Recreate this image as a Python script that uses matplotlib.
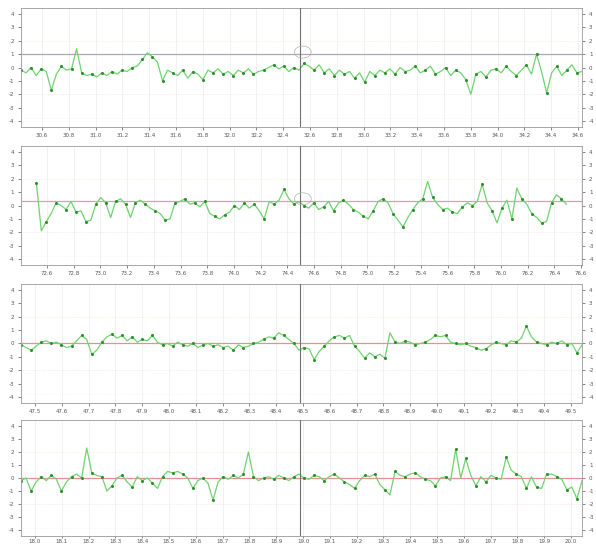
import numpy as np
import matplotlib
matplotlib.use("Agg")
import matplotlib.pyplot as plt
from matplotlib.patches import Ellipse

# ---------------- data ----------------
p1_vals = [-0.2, -0.4, 0.0, -0.6, -0.1, -0.3, -1.7, -0.5, 0.1, -0.2,
           -0.1, 1.4, -0.4, -0.6, -0.5, -0.7, -0.4, -0.6, -0.3, -0.5,
           -0.2, -0.3, 0.0, 0.1, 0.6, 1.1, 0.8, 0.4, -1.0, -0.2,
           -0.4, -0.6, -0.2, -0.8, -0.3, -0.5, -0.9, -0.2, -0.4, -0.1,
           -0.5, -0.3, -0.6, -0.2, -0.4, -0.1, -0.5, -0.3, -0.2, 0.0,
           0.2, -0.1, 0.1, -0.3, 0.0, -0.2, 0.3, 0.1, -0.2, 0.2,
           -0.4, -0.1, -0.6, -0.2, -0.5, -0.3, -0.8, -0.4, -1.1, -0.3,
           -0.6, -0.2, -0.4, -0.1, -0.5, 0.0, -0.3, -0.2, 0.1, -0.4,
           -0.2, 0.1, -0.5, -0.3, 0.0, -0.6, -0.2, -0.4, -0.9, -2.0,
           -0.5, -0.3, -0.7, -0.2, -0.1, -0.4, 0.1, -0.3, -0.6, -0.2,
           0.2, -0.5, 1.0, -0.3, -1.9, -0.4, 0.1, -0.6, -0.2, 0.2, -0.4, -0.3]

p2_vals = [1.7, -1.9, -1.2, -0.6, 0.2, 0.0, -0.3, 0.3, -0.5, -0.4,
           -1.2, -1.1, 0.1, 0.6, 0.2, -0.9, 0.3, 0.5, 0.1, -0.9,
           0.2, 0.4, 0.1, -0.2, -0.4, -0.6, -1.1, -1.0, 0.2, 0.3,
           0.5, 0.1, 0.2, -0.1, 0.3, -0.6, -0.8, -1.0, -0.7, -0.5,
           0.0, -0.3, 0.2, -0.2, 0.1, -0.4, -1.0, 0.3, 0.1, 0.4,
           1.2, 0.5, 0.1, 0.3, 0.0, -0.2, 0.2, -0.3, -0.1, 0.3,
           -0.4, 0.2, 0.4, 0.1, -0.3, -0.5, -0.8, -1.0, -0.4, 0.3,
           0.5, 0.2, -0.6, -1.1, -1.6, -0.9, -0.3, 0.2, 0.5, 1.8,
           0.6, 0.1, -0.3, -0.2, -0.5, -0.6, -0.1, 0.2, 0.0, 0.3,
           1.6, 0.2, -0.4, -1.3, -0.2, 0.4, -1.0, 1.3, 0.5, 0.1,
           -0.6, -0.9, -1.3, -1.2, 0.2, 0.8, 0.5, 0.1]

p3_vals = [-0.1, -0.3, -0.5, -0.2, 0.1, 0.2, 0.0, 0.1, -0.1, -0.3,
           -0.2, 0.2, 0.6, 0.3, -0.8, -0.5, 0.1, 0.5, 0.7, 0.4,
           0.6, 0.2, 0.5, 0.1, 0.3, 0.2, 0.6, 0.1, -0.1, 0.0,
           -0.2, 0.1, -0.1, -0.2, 0.0, -0.3, -0.1, 0.0, -0.2, -0.1,
           -0.3, -0.2, -0.5, -0.1, -0.3, -0.2, 0.0, 0.1, 0.3, 0.5,
           0.4, 0.8, 0.6, 0.3, 0.0, -0.5, -0.3, -0.4, -1.2, -0.6,
           -0.2, 0.2, 0.5, 0.6, 0.4, 0.6, -0.2, -0.6, -1.1, -0.7,
           -1.0, -0.8, -1.1, 0.8, 0.1, 0.0, 0.2, 0.1, -0.1, 0.0,
           0.1, 0.3, 0.6, 0.5, 0.6, 0.1, 0.0, -0.1, 0.0, -0.2,
           -0.3, -0.5, -0.4, -0.1, 0.1, 0.0, -0.1, 0.2, 0.1, 0.4,
           1.3, 0.5, 0.1, 0.0, -0.1, 0.1, 0.0, 0.2, -0.1, 0.0, -0.7, -0.1]

p4_vals = [-0.2, 0.0, -1.0, -0.3, 0.1, -0.2, 0.2, -0.1, -1.0, -0.3,
           0.1, 0.3, 0.0, 2.3, 0.4, 0.2, 0.1, -1.0, -0.6, 0.0,
           0.2, -0.3, -0.7, 0.1, -0.2, 0.0, -0.4, -0.8, 0.1, 0.5,
           0.4, 0.5, 0.3, 0.0, -0.8, -0.2, 0.0, -0.4, -1.7, -0.3,
           0.1, -0.1, 0.2, 0.0, 0.3, 2.0, 0.1, -0.2, 0.0, 0.1,
           -0.1, 0.2, 0.0, -0.2, 0.1, 0.3, 0.0, -0.1, 0.2, 0.1,
           -0.2, 0.1, 0.3, 0.0, -0.3, -0.5, -0.8, -0.2, 0.2, 0.1,
           0.3, -0.5, -0.9, -1.3, 0.5, 0.2, 0.1, 0.3, 0.4, 0.1,
           -0.1, -0.2, -0.6, 0.0, 0.1, -0.2, 2.2, 0.0, 1.5, 0.2,
           -0.6, 0.1, -0.3, 0.2, 0.0, -0.1, 1.6, 0.6, 0.3, 0.1,
           -0.8, 0.1, -0.7, -0.8, 0.3, 0.3, 0.1, -0.1, -0.9, -0.7, -1.6, -0.2]

# genomic x range covered by each panel's data (Mb)
data_start = [30.443, 72.52, 47.448, 17.948]
data_end = [34.63, 76.49, 49.541, 20.041]
# axis limits
xlims = [(30.443, 34.63), (72.405, 76.607), (47.448, 49.541), (17.948, 20.041)]
# x tick labels
xticks1 = [round(30.6 + 0.2 * i, 1) for i in range(21)]
xticks2 = [round(72.6 + 0.2 * i, 1) for i in range(21)]
xticks3 = [round(47.5 + 0.1 * i, 1) for i in range(21)]
xticks4 = [round(18.0 + 0.1 * i, 1) for i in range(21)]
yticks = [-4, -3, -2, -1, 0, 1, 2, 3, 4]
# reference baseline per panel
baselines = [1.0, 0.35, 0.0, 0.0]
baseline_colors = ["#a8a8b8", "#c8a8b0", "#e89090", "#e89090"]
centers = [32.525, 74.495, 48.489, 18.989]

values = [p1_vals, p2_vals, p3_vals, p4_vals]
xticks = [xticks1, xticks2, xticks3, xticks4]

# ---------------- figure ----------------
fig = plt.figure(figsize=(5.96, 5.47), dpi=100)
W, H = 596, 547
boxes = [(8, 127), (146, 265), (284, 403), (420, 536)]
left_px, right_px = 21, 582

for k in range(4):
    top, bot = boxes[k]
    ax = fig.add_axes([left_px / W, 1 - bot / H, (right_px - left_px) / W, (bot - top) / H])
    v = np.array(values[k])
    x = np.linspace(data_start[k], data_end[k], len(v))
    ax.set_xlim(*xlims[k])
    ax.set_ylim(-4.45, 4.45)
    # grid
    for t in xticks[k]:
        ax.axvline(t, color="#ececec", lw=0.5, zorder=0)
    ax.axhline(2, color="#eeeec8", lw=0.6, ls=":", zorder=0)
    ax.axhline(-2, color="#f4dede", lw=0.6, ls=":", zorder=0)
    ax.axhline(-3.8, color="#f0f0f0", lw=0.5, ls=":", zorder=0)
    ax.axhline(baselines[k], color=baseline_colors[k], lw=0.9, zorder=1)
    ax.axvline(centers[k], color="#707070", lw=0.8, zorder=3)
    ax.plot(x, v, color="#6fd36f", lw=0.9, zorder=2)
    ax.plot(x[::2], v[::2], ls="none", marker="o", ms=1.2, color="#2f8f2f", zorder=2)
    if k < 2:
        span = xlims[k][1] - xlims[k][0]
        ax.add_patch(Ellipse((centers[k] + span * 0.005, baselines[k] + 0.15),
                             width=span * 0.03, height=0.9, fill=False,
                             ec="#b0b0b0", lw=0.5, zorder=3))
    ax.set_xticks(xticks[k])
    ax.set_xticklabels([f"{t:.1f}" for t in xticks[k]])
    ax.set_yticks(yticks)
    ax.set_yticklabels([str(t) for t in yticks])
    ax.tick_params(axis="both", labelsize=4, colors="#555555", length=2, width=0.5, pad=2)
    if k == 3:
        ax.tick_params(axis="x", pad=1, length=1.5)
    ax.tick_params(axis="y", right=True, labelright=True, pad=3)
    for s in ax.spines.values():
        s.set_color("#999999")
        s.set_linewidth(0.6)

fig.savefig("out.png", dpi=100)
